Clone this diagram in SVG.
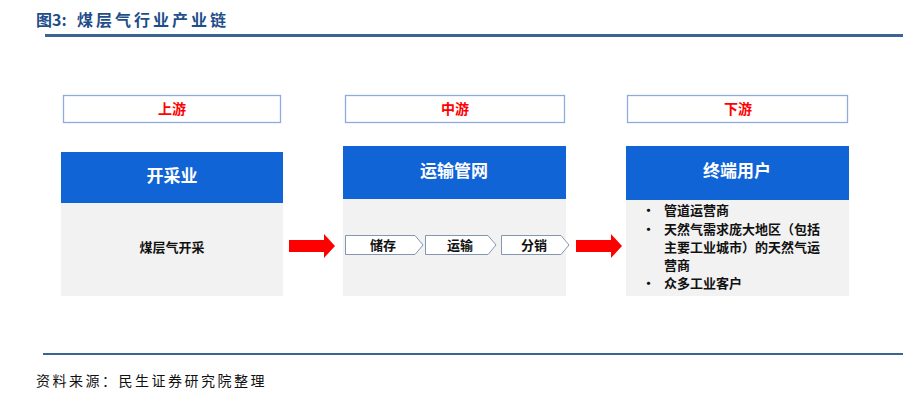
<svg xmlns="http://www.w3.org/2000/svg" width="918" height="404" viewBox="0 0 918 404">
<style>
.cjk{font-family:"Noto Sans CJK SC","Noto Sans",sans-serif;}
.title{font-size:16px;font-weight:bold;fill:#1F4E8A;}
.src{font-size:14px;fill:#111;letter-spacing:2.5px;}
.lbl{fill:#fff;stroke:#8FAADC;stroke-width:1.3;}
.lbltxt{font-size:14px;font-weight:bold;fill:#FF0000;text-anchor:middle;}
.hdr{fill:#1164D6;}
.hdrtxt{font-size:17px;font-weight:bold;fill:#fff;text-anchor:middle;}
.body{fill:#F2F2F2;}
.bodytxt{font-size:13px;font-weight:bold;fill:#111;}
.chev{fill:#fff;stroke:#8497B0;stroke-width:1;}
.arr{fill:#FF0000;}
</style>
<rect width="918" height="404" fill="#fff"/>
<text class="cjk title" x="36" y="26">图3:</text>
<text class="cjk title" x="77" y="26" letter-spacing="3">煤层气行业产业链</text>
<rect x="45" y="34" width="858" height="3" fill="#3A6496"/>

<g id="upstream">
<rect class="lbl" x="63.5" y="95.5" width="217" height="27"/>
<text class="cjk lbltxt" x="172" y="114">上游</text>
<rect class="hdr" x="61" y="152" width="222" height="51"/>
<text class="cjk hdrtxt" x="172" y="182">开采业</text>
<rect class="body" x="61" y="203" width="222" height="93"/>
<text class="cjk bodytxt" x="172" y="252" text-anchor="middle">煤层气开采</text>
</g>

<g id="midstream">
<rect class="lbl" x="345.5" y="95.5" width="219" height="27"/>
<text class="cjk lbltxt" x="455" y="114">中游</text>
<rect class="hdr" x="343" y="146" width="223" height="53"/>
<text class="cjk hdrtxt" x="454" y="177">运输管网</text>
<rect class="body" x="343" y="199" width="223" height="97"/>
<g id="chevrons">
<path class="chev" d="M345.5,235.5 H415 L423,245 L415,254.5 H345.5 Z"/>
<text class="cjk bodytxt" x="383" y="250" text-anchor="middle">储存</text>
<path class="chev" d="M425.5,235.5 H488 L496,245 L488,254.5 H425.5 Z"/>
<text class="cjk bodytxt" x="460" y="250" text-anchor="middle">运输</text>
<path class="chev" d="M501.5,235.5 H561 L569,245 L561,254.5 H501.5 Z"/>
<text class="cjk bodytxt" x="534" y="250" text-anchor="middle">分销</text>
</g>
</g>

<g id="downstream">
<rect class="lbl" x="627.5" y="95.5" width="220" height="27"/>
<text class="cjk lbltxt" x="738" y="114">下游</text>
<rect class="hdr" x="626" y="146" width="223" height="54"/>
<text class="cjk hdrtxt" x="737" y="177">终端用户</text>
<rect class="body" x="626" y="200" width="223" height="96"/>
<g class="cjk bodytxt">
<text x="642" y="215">•</text>
<text x="664" y="215">管道运营商</text>
<text x="642" y="234">•</text>
<text x="664" y="234">天然气需求庞大地区（包括</text>
<text x="664" y="252">主要工业城市）的天然气运</text>
<text x="664" y="270">营商</text>
<text x="642" y="288">•</text>
<text x="664" y="288">众多工业客户</text>
</g>
</g>

<g id="connectors">
<path class="arr" d="M289,240 H324 V234 L335,246 L324,258 V252 H289 Z"/>
<path class="arr" d="M576,240 H611 V234 L622,246 L611,258 V252 H576 Z"/>
</g>

<rect x="43" y="353" width="860" height="2" fill="#3A6496"/>
<text class="cjk src" x="36" y="386">资料来源：民生证券研究院整理</text>
</svg>
